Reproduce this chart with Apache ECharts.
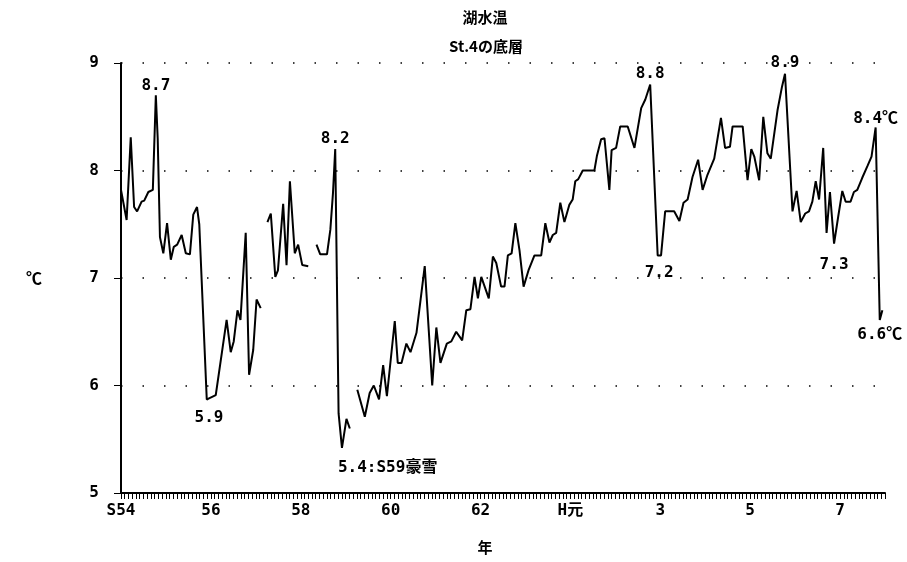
<!DOCTYPE html>
<html>
<head>
<meta charset="utf-8">
<title>湖水温 St.4の底層</title>
<script src="https://cdn.jsdelivr.net/npm/echarts@6/dist/echarts.min.js"></script>
<style>
  html, body { margin: 0; padding: 0; background: #fff; }
  #chart { width: 907px; height: 562px; }
</style>
</head>
<body>
<div id="chart"></div>
<script>
// x = months counted from January of S54 (1979)
const yearTicks = [0, 24, 48, 72, 96, 120, 144, 168, 192];
const yearLabels = ['S54', '56', '58', '60', '62', 'H元', '3', '5', '7'];

// the record has breaks, so it is kept as four pieces
const seg1Months = [0, 1.5, 2.6, 3.5, 4.3, 5.5, 6.2, 7.3, 8.5, 9.3, 9.8, 10.4, 11.3, 12.3, 13.3, 14.1, 15.0, 16.2,
  17.3, 18.4, 19.3, 20.3, 20.9, 22.9, 23.5, 25.3, 28.2, 29.3, 30.1, 31.1, 31.9, 33.3, 34.2, 35.3, 36.2, 37.3];
const seg1Temps = [7.82, 7.54, 8.31, 7.66, 7.62, 7.71, 7.72, 7.80, 7.82, 8.70, 8.30, 7.38, 7.23, 7.51, 7.17, 7.29, 7.31, 7.40,
  7.23, 7.22, 7.59, 7.66, 7.50, 5.87, 5.88, 5.91, 6.61, 6.31, 6.41, 6.70, 6.61, 7.42, 6.10, 6.33, 6.80, 6.72];

const seg2Months = [39.1, 40.0, 41.2, 41.9, 43.3, 44.2, 45.1, 46.4, 47.3, 48.4, 50.0];
const seg2Temps = [7.52, 7.60, 7.01, 7.07, 7.69, 7.12, 7.90, 7.23, 7.31, 7.12, 7.11];

const seg3Months = [52.2, 53.2, 55.0, 55.9, 56.6, 57.2, 58.1, 59.0, 60.2, 61.1];
const seg3Temps = [7.31, 7.22, 7.22, 7.45, 7.79, 8.20, 5.74, 5.42, 5.69, 5.60];

const seg4Months = [63.1, 65.1, 66.4, 67.5, 68.9, 70.0, 71.0, 73.1, 73.9, 74.9, 76.2, 77.3, 78.9, 81.1, 83.1, 84.2,
  85.3, 87.0, 88.2, 89.5, 91.1, 92.2, 93.3, 94.4, 95.3, 96.2, 98.2, 99.3, 100.2, 101.5, 102.4, 103.3, 104.3, 105.3,
  106.4, 107.5, 108.8, 110.4, 112.2, 113.3, 114.4, 115.3, 116.2, 117.3, 118.4, 119.7, 120.6, 121.3, 122.1, 123.3,
  126.4, 127.1, 128.2, 129.1, 130.4, 131.0, 132.2, 133.3, 135.3, 137.1, 138.9, 140.0, 141.3, 143.3, 144.2, 145.3,
  147.7, 149.1, 150.2, 151.3, 152.6, 154.1, 155.3, 156.6, 158.4, 160.2, 161.3, 162.6, 163.3, 166.0, 167.3, 168.3,
  169.1, 170.4, 171.5, 172.6, 173.5, 175.3, 176.5, 177.3, 179.3, 180.4, 181.5, 182.7, 183.7, 184.6, 185.5, 186.4,
  187.5, 188.4, 189.3, 190.4, 191.5, 192.6, 193.5, 194.8, 195.7, 196.6, 197.9, 199.3, 200.4, 201.5, 202.6, 203.3];
const seg4Temps = [5.96, 5.71, 5.93, 6.00, 5.87, 6.19, 5.90, 6.60, 6.21, 6.21, 6.39, 6.31, 6.49, 7.11, 6.00, 6.54,
  6.21, 6.39, 6.41, 6.50, 6.42, 6.70, 6.71, 7.01, 6.81, 7.01, 6.81, 7.20, 7.14, 6.92, 6.92, 7.21, 7.23, 7.51,
  7.26, 6.92, 7.07, 7.21, 7.21, 7.51, 7.33, 7.40, 7.42, 7.70, 7.52, 7.68, 7.73, 7.90, 7.92, 8.00,
  8.00, 8.14, 8.29, 8.30, 7.82, 8.19, 8.21, 8.41, 8.41, 8.21, 8.58, 8.66, 8.80, 7.21, 7.21, 7.62,
  7.62, 7.53, 7.70, 7.73, 7.94, 8.10, 7.82, 7.96, 8.11, 8.49, 8.21, 8.22, 8.41, 8.41, 7.91, 8.20,
  8.13, 7.91, 8.50, 8.16, 8.11, 8.56, 8.78, 8.90, 7.62, 7.81, 7.52, 7.60, 7.62, 7.71, 7.90, 7.73,
  8.21, 7.42, 7.80, 7.32, 7.57, 7.81, 7.71, 7.71, 7.80, 7.82, 7.93, 8.04, 8.13, 8.40, 6.61, 6.70];

// annotated extremes
const noteTexts = ['8.7', '5.9', '8.2', '5.4:S59豪雪', '8.8', '7.2', '8.9', '7.3', '8.4℃', '6.6℃'];
const noteMonths = [9.3, 23.5, 57.2, 59.0, 141.3, 143.7, 177.3, 190.4, 201.5, 202.6];
const noteTemps = [8.70, 5.88, 8.20, 5.42, 8.80, 7.21, 8.90, 7.32, 8.40, 6.61];
// label placement for each note
const notePlace = ['top', 'bottom', 'top', 'bottom', 'top', 'bottom', 'top', 'bottom', 'top', 'bottom'];
const noteDist = [1, 11, 2, 11, 2, 9, 2, 13, 0, 6];

const monoFont = "'DejaVu Sans Mono', 'Noto Sans CJK JP', monospace";
const cjkFont = "'Noto Sans CJK JP', sans-serif";

const toPairs = (ms, ts) => ms.map((m, i) => [m, ts[i]]);

const chart = echarts.init(document.getElementById('chart'));

const lineSeries = (data) => ({
  type: 'line',
  data: data,
  showSymbol: false,
  symbol: 'none',
  lineStyle: { color: '#000', width: 2 },
  silent: true
});

const series = [
  lineSeries(toPairs(seg1Months, seg1Temps)),
  lineSeries(toPairs(seg2Months, seg2Temps)),
  lineSeries(toPairs(seg3Months, seg3Temps)),
  lineSeries(toPairs(seg4Months, seg4Temps))
];

series[0].markPoint = {
  symbol: 'circle',
  symbolSize: 1,
  itemStyle: { color: 'rgba(0,0,0,0)' },
  data: noteTexts.map((t, i) => ({
    name: t,
    coord: [noteMonths[i], noteTemps[i]],
    label: {
      show: true,
      formatter: '{b}',
      position: notePlace[i],
      distance: noteDist[i],
      align: i === 3 ? 'left' : 'center',
      offset: i === 3 ? [-4, 0] : [0, 0],
      color: '#000',
      fontFamily: monoFont,
      fontWeight: 'bold',
      fontSize: 16
    }
  }))
};

const option = {
  animation: false,
  backgroundColor: '#fff',
  title: [
    {
      text: '湖水温',
      left: 485,
      top: 10,
      textAlign: 'center',
      padding: 0,
      textStyle: { fontFamily: cjkFont, fontWeight: 'bold', fontSize: 15, color: '#000' }
    },
    {
      text: 'St.4の底層',
      left: 486,
      top: 39,
      textAlign: 'center',
      padding: 0,
      textStyle: { fontFamily: cjkFont, fontWeight: 'bold', fontSize: 15, color: '#000' }
    }
  ],
  grid: { left: 121, right: 22, top: 63, bottom: 69 },
  xAxis: [
    {
      type: 'value',
      min: 0,
      max: 204,
      interval: 24,
      name: '年',
      nameLocation: 'middle',
      nameGap: 47,
      nameTextStyle: { fontFamily: cjkFont, fontWeight: 'bold', fontSize: 15, color: '#000', padding: [0, 36, 0, 0] },
      axisLine: { show: true, lineStyle: { color: '#000', width: 2 } },
      axisTick: { show: false },
      splitLine: { show: false },
      axisLabel: {
        margin: 10,
        showMaxLabel: false,
        color: '#000',
        fontFamily: monoFont,
        fontWeight: 'bold',
        fontSize: 16,
        formatter: (v) => {
          const i = yearTicks.indexOf(v);
          return i >= 0 ? yearLabels[i] : '';
        }
      }
    },
    {
      // monthly tick comb under the axis
      type: 'value',
      min: 0,
      max: 204,
      interval: 1,
      position: 'bottom',
      axisLine: { show: false },
      axisTick: { show: true, length: 6, lineStyle: { color: '#000', width: 1 } },
      axisLabel: { show: false },
      splitLine: { show: false }
    }
  ],
  yAxis: {
    type: 'value',
    min: 5,
    max: 9,
    interval: 1,
    name: '℃',
    nameLocation: 'middle',
    nameRotate: 0,
    nameGap: 79,
    nameTextStyle: { fontFamily: cjkFont, fontWeight: 'bold', fontSize: 16, color: '#000' },
    axisLine: { show: true, lineStyle: { color: '#000', width: 2 } },
    axisTick: { show: true, length: 7, lineStyle: { color: '#000', width: 1 } },
    axisLabel: { margin: 22, color: '#000', fontFamily: monoFont, fontWeight: 'bold', fontSize: 16 },
    splitLine: { show: true, lineStyle: { color: '#000', width: 1.5, type: [1.5, 20] } }
  },
  series: series
};

chart.setOption(option);
</script>
</body>
</html>
